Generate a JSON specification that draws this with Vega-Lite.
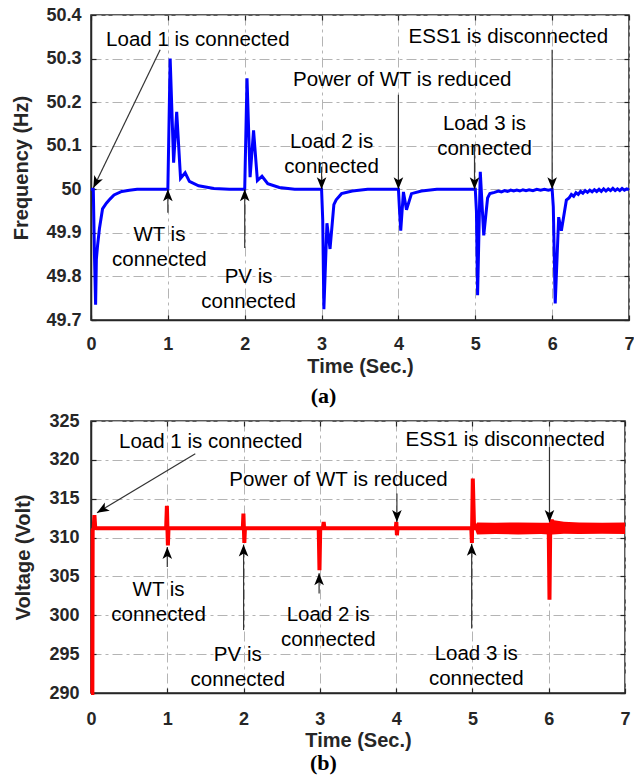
{
  "$schema": "https://vega.github.io/schema/vega-lite/v6.json",
  "background": "white",
  "padding": {"left": 11, "top": 5, "right": 3, "bottom": 0},
  "bounds": "flush",
  "spacing": 101,
  "config": {
    "view": {"stroke": "#262626", "strokeWidth": 1.5},
    "axis": {
      "labelFont": "Liberation Sans", "labelFontWeight": "bold", "labelFontSize": 18, "labelColor": "#262626",
      "titleFont": "Liberation Sans", "titleFontWeight": "bold", "titleFontSize": 20, "titleColor": "#262626",
      "domainColor": "#262626", "domainWidth": 1.5, "tickColor": "#262626", "tickWidth": 1.2, "tickSize": -5,
      "gridColor": "#b4b4b4", "gridDash": [10, 4, 3, 4], "gridWidth": 1,
      "labelFlush": false, "labelOverlap": false
    },
    "text": {"font": "Liberation Sans", "fontSize": 20.5, "color": "black", "lineBreak": "\n", "lineHeight": 25}
  },
  "datasets": {
    "freq": [
      {"t": 0, "f": 50.0}, {"t": 0.03, "f": 50.0}, {"t": 0.045, "f": 49.85}, {"t": 0.06, "f": 49.735},
      {"t": 0.07, "f": 49.84}, {"t": 0.085, "f": 49.87}, {"t": 0.11, "f": 49.91}, {"t": 0.15, "f": 49.955},
      {"t": 0.2, "f": 49.968}, {"t": 0.25, "f": 49.978}, {"t": 0.3, "f": 49.987}, {"t": 0.4, "f": 49.995},
      {"t": 0.5, "f": 49.998}, {"t": 0.6, "f": 50.0}, {"t": 1.0, "f": 50.0},
      {"t": 1.03, "f": 50.3}, {"t": 1.075, "f": 50.061}, {"t": 1.115, "f": 50.178}, {"t": 1.165, "f": 50.025},
      {"t": 1.225, "f": 50.038}, {"t": 1.28, "f": 50.018}, {"t": 1.4, "f": 50.008}, {"t": 1.6, "f": 50.002},
      {"t": 1.8, "f": 50.0}, {"t": 2.0, "f": 50.0},
      {"t": 2.03, "f": 50.255}, {"t": 2.07, "f": 50.028}, {"t": 2.115, "f": 50.135}, {"t": 2.165, "f": 50.02},
      {"t": 2.225, "f": 50.03}, {"t": 2.3, "f": 50.013}, {"t": 2.45, "f": 50.004}, {"t": 2.65, "f": 50.0},
      {"t": 3.0, "f": 50.0}, {"t": 3.015, "f": 49.93}, {"t": 3.03, "f": 49.725}, {"t": 3.07, "f": 49.922},
      {"t": 3.11, "f": 49.863}, {"t": 3.16, "f": 49.965}, {"t": 3.19, "f": 49.976}, {"t": 3.26, "f": 49.99},
      {"t": 3.4, "f": 49.996}, {"t": 3.6, "f": 50.0}, {"t": 4.0, "f": 50.0},
      {"t": 4.015, "f": 49.95}, {"t": 4.03, "f": 49.905}, {"t": 4.065, "f": 49.994}, {"t": 4.105, "f": 49.953},
      {"t": 4.17, "f": 49.99}, {"t": 4.3, "f": 49.996}, {"t": 4.5, "f": 50.0}, {"t": 5.0, "f": 50.0},
      {"t": 5.015, "f": 49.95}, {"t": 5.03, "f": 49.757}, {"t": 5.065, "f": 50.04}, {"t": 5.11, "f": 49.894},
      {"t": 5.16, "f": 49.98}, {"t": 5.19, "f": 49.99}, {"t": 5.25, "f": 49.993}, {"t": 5.3, "f": 49.996},
      {"t": 5.34, "f": 49.994}, {"t": 5.38, "f": 49.997}, {"t": 5.42, "f": 49.995}, {"t": 5.46, "f": 49.998},
      {"t": 5.5, "f": 49.996}, {"t": 5.54, "f": 49.998}, {"t": 5.58, "f": 49.996}, {"t": 5.62, "f": 49.999},
      {"t": 5.66, "f": 49.997}, {"t": 5.7, "f": 49.999}, {"t": 5.75, "f": 49.997}, {"t": 5.8, "f": 50.0},
      {"t": 5.85, "f": 49.998}, {"t": 5.9, "f": 50.0}, {"t": 5.95, "f": 49.998}, {"t": 6.0, "f": 50.0},
      {"t": 6.015, "f": 49.96}, {"t": 6.04, "f": 49.738}, {"t": 6.085, "f": 49.936}, {"t": 6.12, "f": 49.905},
      {"t": 6.185, "f": 49.975}, {"t": 6.22, "f": 49.98}, {"t": 6.25, "f": 49.988}, {"t": 6.28, "f": 49.984},
      {"t": 6.31, "f": 49.992}, {"t": 6.34, "f": 49.988}, {"t": 6.37, "f": 49.995}, {"t": 6.4, "f": 49.991},
      {"t": 6.43, "f": 49.997}, {"t": 6.46, "f": 49.993}, {"t": 6.49, "f": 49.998}, {"t": 6.52, "f": 49.994},
      {"t": 6.55, "f": 49.999}, {"t": 6.58, "f": 49.995}, {"t": 6.61, "f": 50.0}, {"t": 6.64, "f": 49.995},
      {"t": 6.67, "f": 50.001}, {"t": 6.7, "f": 49.996}, {"t": 6.73, "f": 50.001}, {"t": 6.76, "f": 49.997},
      {"t": 6.79, "f": 50.002}, {"t": 6.82, "f": 49.997}, {"t": 6.85, "f": 50.001}, {"t": 6.88, "f": 49.997},
      {"t": 6.91, "f": 50.002}, {"t": 6.94, "f": 49.998}, {"t": 6.97, "f": 50.001}, {"t": 7.0, "f": 49.999}
    ],
    "volt": [
      {"t": 0, "v": 290}, {"t": 0.018, "v": 290}, {"t": 0.022, "v": 311.0}, {"t": 0.035, "v": 311.2},
      {"t": 0.045, "v": 312.9}, {"t": 0.055, "v": 311.3}, {"t": 0.07, "v": 311.2},
      {"t": 0.985, "v": 311.2}, {"t": 0.995, "v": 314.1}, {"t": 1.002, "v": 311.2}, {"t": 1.008, "v": 309.0}, {"t": 1.016, "v": 311.2},
      {"t": 1.99, "v": 311.2}, {"t": 1.998, "v": 313.1}, {"t": 2.004, "v": 311.2}, {"t": 2.01, "v": 309.3}, {"t": 2.018, "v": 311.2},
      {"t": 2.985, "v": 311.2}, {"t": 2.995, "v": 305.8}, {"t": 3.005, "v": 311.2}, {"t": 3.04, "v": 311.2}, {"t": 3.05, "v": 312.0}, {"t": 3.06, "v": 311.2},
      {"t": 3.995, "v": 311.2}, {"t": 4.003, "v": 312.0}, {"t": 4.01, "v": 310.3}, {"t": 4.018, "v": 311.2},
      {"t": 4.985, "v": 311.2}, {"t": 4.993, "v": 309.3}, {"t": 5.005, "v": 317.6}, {"t": 5.02, "v": 311.8}, {"t": 5.04, "v": 311.2},
      {"t": 6.0, "v": 311.2}, {"t": 6.01, "v": 302.0}, {"t": 6.02, "v": 311.2}, {"t": 6.04, "v": 312.3}, {"t": 6.06, "v": 311.2},
      {"t": 7.0, "v": 311.2}
    ],
    "band": [
      {"t": 5.04, "lo": 310.9, "hi": 311.6}, {"t": 5.06, "lo": 310.4, "hi": 311.95}, {"t": 5.3, "lo": 310.45, "hi": 311.9},
      {"t": 5.6, "lo": 310.4, "hi": 311.95}, {"t": 5.9, "lo": 310.45, "hi": 311.9}, {"t": 6.0, "lo": 310.4, "hi": 311.9},
      {"t": 6.05, "lo": 310.4, "hi": 312.25}, {"t": 6.2, "lo": 310.5, "hi": 312.05}, {"t": 6.4, "lo": 310.45, "hi": 311.95},
      {"t": 6.7, "lo": 310.5, "hi": 311.9}, {"t": 7.0, "lo": 310.45, "hi": 311.95}
    ],
    "arrA": [
      {"t0": 0.9, "y0": 50.32, "t1": 0.03, "y1": 50.003, "dir": "diag"},
      {"t0": 1.0, "y0": 49.946, "t1": 1.0, "y1": 50.0, "dir": "up"},
      {"t0": 2.0, "y0": 49.865, "t1": 2.0, "y1": 50.0, "dir": "up"},
      {"t0": 3.0, "y0": 50.052, "t1": 3.0, "y1": 50.0, "dir": "down"},
      {"t0": 4.0, "y0": 50.217, "t1": 4.0, "y1": 50.0, "dir": "down"},
      {"t0": 4.99, "y0": 50.102, "t1": 4.99, "y1": 50.0, "dir": "down"},
      {"t0": 6.0, "y0": 50.32, "t1": 6.0, "y1": 50.0, "dir": "down"}
    ],
    "arrB": [
      {"t0": 1.367, "y0": 320.8, "t1": 0.079, "y1": 313.2, "dir": "diag"},
      {"t0": 1.0, "y0": 306.2, "t1": 1.0, "y1": 308.8, "dir": "up"},
      {"t0": 2.0, "y0": 298.1, "t1": 2.0, "y1": 309.1, "dir": "up"},
      {"t0": 2.99, "y0": 302.8, "t1": 2.99, "y1": 305.4, "dir": "up"},
      {"t0": 4.01, "y0": 315.66, "t1": 4.01, "y1": 312.0, "dir": "down"},
      {"t0": 4.99, "y0": 298.3, "t1": 4.99, "y1": 309.2, "dir": "up"},
      {"t0": 6.01, "y0": 321.65, "t1": 6.01, "y1": 312.0, "dir": "down"}
    ],
    "txtA": [
      {"label": "Load 1 is connected", "t": 1.39, "y": 50.343},
      {"label": "WT is\nconnected", "t": 0.89, "y": 49.894},
      {"label": "PV is\nconnected", "t": 2.05, "y": 49.799},
      {"label": "Power of WT is reduced", "t": 4.05, "y": 50.251},
      {"label": "Load 2 is\nconnected", "t": 3.13, "y": 50.109},
      {"label": "Load 3 is\nconnected", "t": 5.12, "y": 50.15},
      {"label": "ESS1 is disconnected", "t": 5.43, "y": 50.35}
    ],
    "txtB": [
      {"label": "Load 1 is connected", "t": 1.57, "y": 322.3},
      {"label": "Power of WT is reduced", "t": 3.245, "y": 317.4},
      {"label": "ESS1 is disconnected", "t": 5.43, "y": 322.6},
      {"label": "WT is\nconnected", "t": 0.886, "y": 303.2},
      {"label": "PV is\nconnected", "t": 1.924, "y": 294.85},
      {"label": "Load 2 is\nconnected", "t": 3.11, "y": 300.06},
      {"label": "Load 3 is\nconnected", "t": 5.05, "y": 295.07}
    ]
  },
  "vconcat": [
    {
      "width": 538,
      "height": 305,
      "title": {"text": "(a)", "orient": "bottom", "anchor": "middle", "frame": "bounds", "font": "Liberation Serif", "fontWeight": "bold", "fontSize": 22, "color": "black", "offset": 10},
      "resolve": {"axis": {"x": "independent", "y": "independent"}},
      "layer": [
        {
          "data": {"name": "freq"},
          "mark": {"type": "line", "color": "#0000ff", "strokeWidth": 3},
          "encoding": {
            "x": {"field": "t", "type": "quantitative", "scale": {"domain": [0, 7], "nice": false, "zero": false},
              "axis": {"values": [0, 1, 2, 3, 4, 5, 6, 7], "title": "Time (Sec.)", "grid": true, "labelPadding": 20, "titlePadding": 3}},
            "y": {"field": "f", "type": "quantitative", "scale": {"domain": [49.7, 50.4], "nice": false, "zero": false},
              "axis": {"values": [49.7, 49.8, 49.9, 50, 50.1, 50.2, 50.3, 50.4], "format": "~f", "title": "Frequency (Hz)", "grid": true, "labelPadding": 15, "titlePadding": 14}}
          }
        },
        {
          "data": {"name": "arrA"},
          "mark": {"type": "rule", "color": "#333333", "strokeWidth": 1.2},
          "encoding": {
            "x": {"field": "t0", "type": "quantitative", "scale": {"domain": [0, 7], "nice": false, "zero": false},
              "axis": {"orient": "top", "values": [0, 1, 2, 3, 4, 5, 6, 7], "labels": false, "title": null, "grid": false, "domain": false}},
            "x2": {"field": "t1"},
            "y": {"field": "y0", "type": "quantitative", "scale": {"domain": [49.7, 50.4], "nice": false, "zero": false},
              "axis": {"orient": "right", "values": [49.7, 49.8, 49.9, 50, 50.1, 50.2, 50.3, 50.4], "labels": false, "title": null, "grid": false, "domain": false}},
            "y2": {"field": "y1"}
          }
        },
        {
          "data": {"name": "arrA"},
          "transform": [{"filter": "datum.dir === 'down'"}],
          "mark": {"type": "point", "shape": "M0,0L-0.8,-2L0,-1.5L0.8,-2Z", "filled": true, "color": "black", "size": 144, "opacity": 1},
          "encoding": {
            "x": {"field": "t1", "type": "quantitative", "scale": {"domain": [0, 7], "nice": false, "zero": false}, "axis": null},
            "y": {"field": "y1", "type": "quantitative", "scale": {"domain": [49.7, 50.4], "nice": false, "zero": false}, "axis": null}
          }
        },
        {
          "data": {"name": "arrA"},
          "transform": [{"filter": "datum.dir === 'up'"}],
          "mark": {"type": "point", "shape": "M0,0L-0.8,2L0,1.5L0.8,2Z", "filled": true, "color": "black", "size": 144, "opacity": 1},
          "encoding": {
            "x": {"field": "t1", "type": "quantitative", "scale": {"domain": [0, 7], "nice": false, "zero": false}, "axis": null},
            "y": {"field": "y1", "type": "quantitative", "scale": {"domain": [49.7, 50.4], "nice": false, "zero": false}, "axis": null}
          }
        },
        {
          "data": {"name": "arrA"},
          "transform": [{"filter": "datum.dir === 'diag'"}],
          "mark": {"type": "point", "shape": "M0,0L-0.8,-2L0,-1.5L0.8,-2Z", "filled": true, "color": "black", "size": 144, "opacity": 1, "angle": 26},
          "encoding": {
            "x": {"field": "t1", "type": "quantitative", "scale": {"domain": [0, 7], "nice": false, "zero": false}, "axis": null},
            "y": {"field": "y1", "type": "quantitative", "scale": {"domain": [49.7, 50.4], "nice": false, "zero": false}, "axis": null}
          }
        },
        {
          "data": {"name": "txtA"},
          "mark": {"type": "text", "align": "center", "baseline": "middle"},
          "encoding": {
            "x": {"field": "t", "type": "quantitative", "scale": {"domain": [0, 7], "nice": false, "zero": false}, "axis": null},
            "y": {"field": "y", "type": "quantitative", "scale": {"domain": [49.7, 50.4], "nice": false, "zero": false}, "axis": null},
            "text": {"field": "label"}
          }
        }
      ]
    },
    {
      "width": 534,
      "height": 272,
      "title": {"text": "(b)", "orient": "bottom", "anchor": "middle", "frame": "bounds", "font": "Liberation Serif", "fontWeight": "bold", "fontSize": 22, "color": "black", "offset": 3},
      "resolve": {"axis": {"x": "independent", "y": "independent"}},
      "layer": [
        {
          "data": {"name": "band"},
          "mark": {"type": "area", "color": "#ff0000", "opacity": 1},
          "encoding": {
            "x": {"field": "t", "type": "quantitative", "scale": {"domain": [0, 7], "nice": false, "zero": false}, "axis": null},
            "y": {"field": "lo", "type": "quantitative", "scale": {"domain": [290, 325], "nice": false, "zero": false}, "axis": null},
            "y2": {"field": "hi"}
          }
        },
        {
          "data": {"name": "volt"},
          "mark": {"type": "line", "color": "#ff0000", "strokeWidth": 4},
          "encoding": {
            "x": {"field": "t", "type": "quantitative", "scale": {"domain": [0, 7], "nice": false, "zero": false},
              "axis": {"values": [0, 1, 2, 3, 4, 5, 6, 7], "title": "Time (Sec.)", "grid": true, "labelPadding": 22, "titlePadding": 2}},
            "y": {"field": "v", "type": "quantitative", "scale": {"domain": [290, 325], "nice": false, "zero": false},
              "axis": {"values": [290, 295, 300, 305, 310, 315, 320, 325], "title": "Voltage (Volt)", "grid": true, "labelPadding": 17, "titlePadding": 15}}
          }
        },
        {
          "data": {"name": "arrB"},
          "mark": {"type": "rule", "color": "#333333", "strokeWidth": 1.2},
          "encoding": {
            "x": {"field": "t0", "type": "quantitative", "scale": {"domain": [0, 7], "nice": false, "zero": false},
              "axis": {"orient": "top", "values": [0, 1, 2, 3, 4, 5, 6, 7], "labels": false, "title": null, "grid": false, "domain": false}},
            "x2": {"field": "t1"},
            "y": {"field": "y0", "type": "quantitative", "scale": {"domain": [290, 325], "nice": false, "zero": false},
              "axis": {"orient": "right", "values": [290, 295, 300, 305, 310, 315, 320, 325], "labels": false, "title": null, "grid": false, "domain": false}},
            "y2": {"field": "y1"}
          }
        },
        {
          "data": {"name": "arrB"},
          "transform": [{"filter": "datum.dir === 'down'"}],
          "mark": {"type": "point", "shape": "M0,0L-0.8,-2L0,-1.5L0.8,-2Z", "filled": true, "color": "black", "size": 144, "opacity": 1},
          "encoding": {
            "x": {"field": "t1", "type": "quantitative", "scale": {"domain": [0, 7], "nice": false, "zero": false}, "axis": null},
            "y": {"field": "y1", "type": "quantitative", "scale": {"domain": [290, 325], "nice": false, "zero": false}, "axis": null}
          }
        },
        {
          "data": {"name": "arrB"},
          "transform": [{"filter": "datum.dir === 'up'"}],
          "mark": {"type": "point", "shape": "M0,0L-0.8,2L0,1.5L0.8,2Z", "filled": true, "color": "black", "size": 144, "opacity": 1},
          "encoding": {
            "x": {"field": "t1", "type": "quantitative", "scale": {"domain": [0, 7], "nice": false, "zero": false}, "axis": null},
            "y": {"field": "y1", "type": "quantitative", "scale": {"domain": [290, 325], "nice": false, "zero": false}, "axis": null}
          }
        },
        {
          "data": {"name": "arrB"},
          "transform": [{"filter": "datum.dir === 'diag'"}],
          "mark": {"type": "point", "shape": "M0,0L-0.8,-2L0,-1.5L0.8,-2Z", "filled": true, "color": "black", "size": 144, "opacity": 1, "angle": 59},
          "encoding": {
            "x": {"field": "t1", "type": "quantitative", "scale": {"domain": [0, 7], "nice": false, "zero": false}, "axis": null},
            "y": {"field": "y1", "type": "quantitative", "scale": {"domain": [290, 325], "nice": false, "zero": false}, "axis": null}
          }
        },
        {
          "data": {"name": "txtB"},
          "mark": {"type": "text", "align": "center", "baseline": "middle"},
          "encoding": {
            "x": {"field": "t", "type": "quantitative", "scale": {"domain": [0, 7], "nice": false, "zero": false}, "axis": null},
            "y": {"field": "y", "type": "quantitative", "scale": {"domain": [290, 325], "nice": false, "zero": false}, "axis": null},
            "text": {"field": "label"}
          }
        }
      ]
    }
  ]
}
